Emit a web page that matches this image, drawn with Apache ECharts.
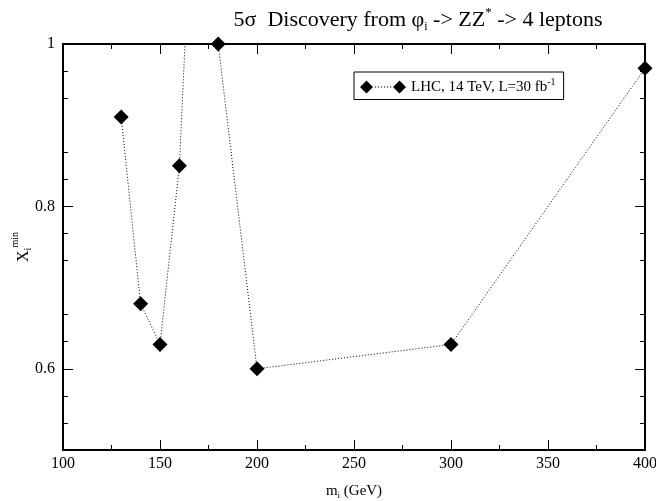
<!DOCTYPE html>
<html>
<head>
<meta charset="utf-8">
<script src="https://cdn.jsdelivr.net/npm/echarts@6/dist/echarts.min.js"></script>
<style>
  html, body { margin: 0; padding: 0; background: #fff; }
  #chart { width: 656px; height: 501px; }
</style>
</head>
<body>
<div id="chart"></div>
<script>
// masses (GeV) and minimal X_i for 5 sigma discovery
const masses = [130, 140, 150, 160, 170, 180, 200, 300, 400]
const xMin = [0.91, 0.68, 0.63, 0.85, 1.37, 1.0, 0.6, 0.63, 0.97]
const xTicks = [100, 150, 200, 250, 300, 350, 400]
const yTicks = [0.6, 0.8, 1]

const font = 'Liberation Serif'

const chart = echarts.init(document.getElementById('chart'))

const frameAxis = {
  axisLine: { show: true, onZero: false, lineStyle: { color: '#000', width: 2 } },
  axisTick: { show: true, inside: true, length: 10, lineStyle: { color: '#000', width: 1 } },
  minorTick: { show: true, length: 5, lineStyle: { color: '#000', width: 1 } },
  splitLine: { show: false },
}

chart.setOption({
  animation: false,
  textStyle: { fontFamily: font },
  title: {
    text: '5σ  Discovery from φ{sub|i} -> ZZ{sup|*} -> 4 leptons',
    left: 413,
    textAlign: 'center',
    top: 1,
    textStyle: {
      fontFamily: font,
      fontSize: 22,
      fontWeight: 'normal',
      color: '#000',
      rich: {
        sub: { fontFamily: font, fontSize: 12, padding: [0, 0, -12, 0] },
        sup: { fontFamily: font, fontSize: 13, padding: [0, 0, 16, 0] },
      },
    },
  },
  grid: { left: 63, right: 11, top: 44, bottom: 51, outerBoundsMode: 'none' },
  legend: {
    left: 354,
    top: 72,
    padding: [5, 8, 5, 6],
    borderColor: '#000',
    borderWidth: 1,
    backgroundColor: '#fff',
    itemWidth: 46,
    itemHeight: 13,
    itemGap: 4,
    icon: 'path://M0,6.5L6.5,0L13,6.5L6.5,13Z M33,6.5L39.5,0L46,6.5L39.5,13Z M15,6h1.2v1h-1.2Z M18,6h1.2v1h-1.2Z M21,6h1.2v1h-1.2Z M24,6h1.2v1h-1.2Z M27,6h1.2v1h-1.2Z M30,6h1.2v1h-1.2Z',
    data: ['LHC'],
    formatter: () => 'LHC, 14 TeV, L=30 fb{sup|-1}',
    textStyle: {
      fontFamily: font,
      fontSize: 15,
      color: '#000',
      rich: {
        sup: { fontFamily: font, fontSize: 10, padding: [0, 0, 10, 0] },
      },
    },
  },
  xAxis: [
    {
      type: 'value',
      min: 100,
      max: 400,
      interval: 50,
      ...frameAxis,
      minorTick: { ...frameAxis.minorTick, splitNumber: 2 },
      axisLabel: {
        fontFamily: font, fontSize: 16, color: '#000', margin: 6,
        customValues: xTicks,
      },
      name: 'm{sub|i} (GeV)',
      nameLocation: 'middle',
      nameGap: 34,
      nameMoveOverlap: false,
      nameTextStyle: {
        fontFamily: font, fontSize: 15, color: '#000',
        rich: { sub: { fontFamily: font, fontSize: 9, padding: [0, 0, -9, 0] } },
      },
    },
    {
      type: 'value',
      position: 'top',
      min: 100,
      max: 400,
      interval: 50,
      ...frameAxis,
      minorTick: { ...frameAxis.minorTick, splitNumber: 2 },
      axisLabel: { show: false },
    },
  ],
  yAxis: [
    {
      type: 'value',
      min: 0.5,
      max: 1,
      interval: 0.1,
      ...frameAxis,
      minorTick: { ...frameAxis.minorTick, splitNumber: 3 },
      axisTick: { ...frameAxis.axisTick, customValues: yTicks },
      axisLabel: {
        fontFamily: font, fontSize: 16, color: '#000', margin: 8,
        customValues: yTicks,
        formatter: (v) => String(Math.round(v * 10) / 10),
      },
      name: 'X{sub|i}{sup|min}',
      nameLocation: 'middle',
      nameRotate: 90,
      nameGap: 25,
      nameMoveOverlap: false,
      nameTextStyle: {
        fontFamily: font, fontSize: 16, color: '#000',
        rich: {
          sub: { fontFamily: font, fontSize: 10, padding: [0, 0, -9, 0] },
          sup: { fontFamily: font, fontSize: 10, padding: [0, 0, 18, 0] },
        },
      },
    },
    {
      type: 'value',
      position: 'right',
      min: 0.5,
      max: 1,
      interval: 0.1,
      ...frameAxis,
      minorTick: { ...frameAxis.minorTick, splitNumber: 3 },
      axisTick: { ...frameAxis.axisTick, customValues: yTicks },
      axisLabel: { show: false },
    },
  ],
  series: [
    {
      name: 'LHC',
      type: 'line',
      data: masses.map((m, i) => [m, xMin[i]]),
      symbol: 'diamond',
      symbolSize: 15,
      clip: true,
      itemStyle: { color: '#000' },
      lineStyle: { color: '#000', width: 1, type: [1, 2] },
    },
  ],
})
</script>
</body>
</html>
